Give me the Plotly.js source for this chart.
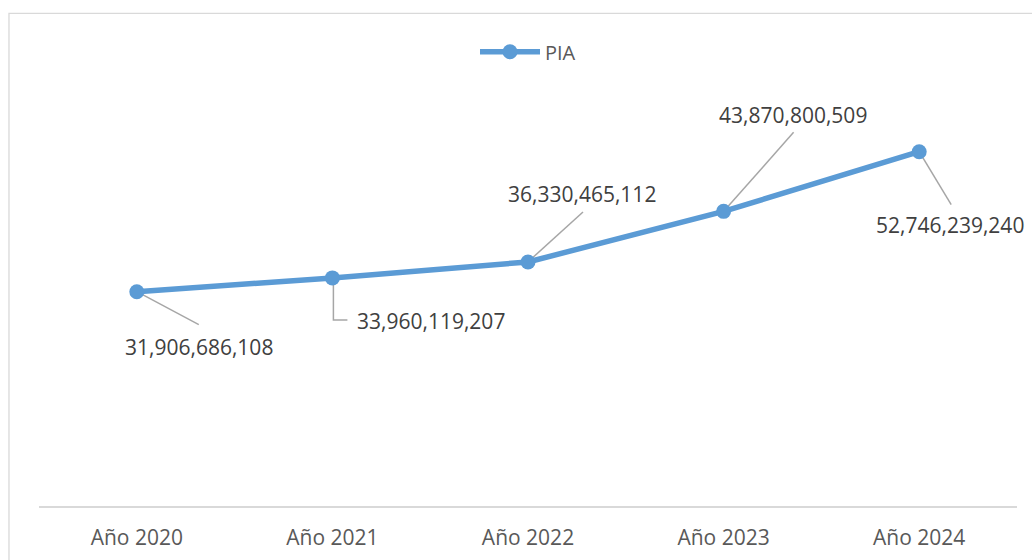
<!DOCTYPE html>
<html>
<head>
<meta charset="utf-8">
<script src="https://cdn.plot.ly/plotly-3.0.1.min.js"></script>
<style>
  html, body { margin: 0; padding: 0; background: #fff; }
  #chart { width: 1032px; height: 560px; }
</style>
</head>
<body>
<div id="chart"></div>
<script>
// ---- data ----
var categories = ["Año 2020", "Año 2021", "Año 2022", "Año 2023", "Año 2024"];
var seriesName = "PIA";
var values = [31906686108, 33960119207, 36330465112, 43870800509, 52746239240];

// ---- label placement (pixel offsets from each point) ----
var labelShiftX = [62, 99, 54, 69, 31];
var labelShiftY = [-55, -43, 68, 96, -73];
var leaderPaths = [
  "M 2 -1 L 62 -33",
  "M 1 0 L 1 -42 L 15 -42",
  "M 1 1 L 55 50",
  "M 1 1 L 70 79",
  "M 0 0 L 32 -53"
];

var lineColor = "#5B9BD5";
var labelColor = "#404040";
var axisTextColor = "#595959";
var font = "'Open Sans', 'Noto Sans', sans-serif";

var trace = {
  type: "scatter",
  mode: "lines+markers",
  name: seriesName,
  x: categories,
  y: values,
  line: { color: lineColor, width: 5.5 },
  marker: { color: lineColor, size: 15 },
  hoverinfo: "skip"
};

var annotations = categories.map(function (c, i) {
  return {
    xref: "x", yref: "y", x: c, y: values[i],
    text: values[i].toLocaleString("en-US"),
    showarrow: false,
    xshift: labelShiftX[i], yshift: labelShiftY[i],
    xanchor: "center", yanchor: "middle",
    font: { family: font, size: 21, color: labelColor }
  };
});

var shapes = categories.map(function (c, i) {
  return {
    type: "path", layer: "below",
    xref: "x", yref: "y",
    xsizemode: "pixel", ysizemode: "pixel",
    xanchor: c, yanchor: values[i],
    path: leaderPaths[i],
    line: { color: "#A6A6A6", width: 1.5 }
  };
});

// chart area border
shapes.push({
  type: "rect", xref: "paper", yref: "paper", layer: "below",
  x0: -0.0307, x1: 1.2, y0: -0.3, y1: 1.2223,
  line: { color: "#D9D9D9", width: 1.3 },
  fillcolor: "rgba(0,0,0,0)"
});

var layout = {
  width: 1032, height: 560,
  margin: { l: 39, r: 15, t: 103, b: 54 },
  paper_bgcolor: "#ffffff",
  plot_bgcolor: "#ffffff",
  showlegend: true,
  legend: {
    orientation: "h",
    x: 0.5, xanchor: "center",
    y: 1.127, yanchor: "middle",
    font: { family: font, size: 20, color: axisTextColor },
    itemwidth: 60,
    bgcolor: "rgba(0,0,0,0)"
  },
  xaxis: {
    type: "category",
    range: [-0.5, categories.length - 0.5],
    showgrid: false, zeroline: false,
    showline: true, linecolor: "#D9D9D9", linewidth: 1.5,
    ticks: "",
    ticklabelstandoff: 12,
    tickfont: { family: font, size: 21, color: axisTextColor },
    fixedrange: true
  },
  yaxis: {
    range: [0, 60e9],
    showgrid: false, zeroline: false, showline: false,
    showticklabels: false, ticks: "",
    fixedrange: true
  },
  annotations: annotations,
  shapes: shapes,
  hovermode: false
};

Plotly.newPlot("chart", [trace], layout, { displayModeBar: false, staticPlot: true });
</script>
</body>
</html>
